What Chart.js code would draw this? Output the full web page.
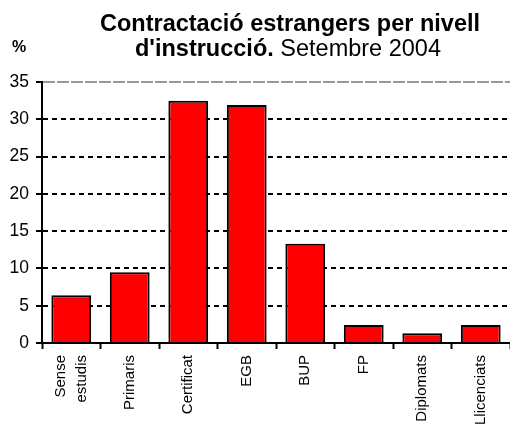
<!DOCTYPE html>
<html>
<head>
<meta charset="utf-8">
<script src="https://cdn.jsdelivr.net/npm/chart.js@4/dist/chart.umd.min.js"></script>
<style>
  body { margin: 0; background: #fff; }
  #wrap { width: 510px; height: 428px; position: relative; }
</style>
</head>
<body>
<div id="wrap"><canvas id="myChart"></canvas></div>
<script>
// Chart data
const categories = [['Sense', 'estudis'], 'Primaris', 'Certificat', 'EGB', 'BUP', 'FP', 'Diplomats', 'Llicenciats'];
const percentages = [6.4, 9.5, 32.5, 31.9, 13.3, 2.4, 1.3, 2.4];
const yMax = 35;
const yStep = 5;
const titleBold1 = 'Contractació estrangers per nivell';
const titleBold2 = "d'instrucció.";
const titleNormal2 = ' Setembre 2004';
const yUnit = '%';

const FONT = 'Liberation Sans, Arial, sans-serif';
const X_FONT_SIZE = 15;
const X_LINE_HEIGHT = 1.45;

// Title with mixed bold / normal text, plus the "%" label
const titlePlugin = {
    id: 'mixedTitle',
    beforeDraw(chart) {
        // center two-line rotated labels on their category
        const xs = chart.scales.x;
        xs.getLabelItems(chart.chartArea).forEach(function (it) {
            if (Array.isArray(it.label) && !it._shifted) {
                it.options.translation[0] -= (it.label.length - 1) * X_FONT_SIZE * X_LINE_HEIGHT / 2;
                it._shifted = true;
            }
        });
    },
    afterDraw(chart) {
        const c = chart.ctx;
        c.save();
        c.fillStyle = '#000';
        c.textBaseline = 'alphabetic';
        c.textAlign = 'left';

        c.font = 'bold 23.5px ' + FONT;
        let w1 = c.measureText(titleBold1).width;
        c.fillText(titleBold1, 290 - w1 / 2, 31);

        let wb = c.measureText(titleBold2).width;
        c.font = '23.5px ' + FONT;
        let wn = c.measureText(titleNormal2).width;
        let x0 = 288 - (wb + wn) / 2;
        c.font = 'bold 23.5px ' + FONT;
        c.fillText(titleBold2, x0, 56);
        c.font = '23.5px ' + FONT;
        c.fillText(titleNormal2, x0 + wb, 56);

        c.font = 'bold 16px ' + FONT;
        c.fillText(yUnit, 12, 52);
        c.restore();
    }
};

const ctx = document.getElementById('myChart').getContext('2d');
const myChart = new Chart(ctx, {
    type: 'bar',
    data: {
        labels: categories,
        datasets: [{
            data: percentages,
            backgroundColor: '#ff0000',
            borderColor: '#000',
            borderWidth: 2,
            barPercentage: 0.68,
            categoryPercentage: 1
        }]
    },
    options: {
        responsive: true,
        maintainAspectRatio: false,
        animation: false,
        layout: { padding: { top: 82, left: 0, right: 0, bottom: 0 } },
        plugins: {
            legend: { display: false },
            tooltip: { enabled: false },
            title: { display: false }
        },
        scales: {
            x: {
                afterFit(scale) { scale.height = 85; },
                grid: {
                    drawOnChartArea: false,
                    drawTicks: true,
                    tickLength: 6,
                    tickColor: '#000',
                    tickWidth: 2,
                    offset: true
                },
                border: { color: '#000', width: 2 },
                ticks: {
                    maxRotation: 90,
                    minRotation: 90,
                    autoSkip: false,
                    padding: 6,
                    color: '#000',
                    font: { family: FONT, size: X_FONT_SIZE, lineHeight: X_LINE_HEIGHT }
                }
            },
            y: {
                min: 0,
                max: yMax,
                afterFit(scale) { scale.width = 42; },
                grid: {
                    color(c) {
                        if (c.tick && c.tick.value === yMax) return '#999';
                        return '#000';
                    },
                    lineWidth: 2,
                    tickLength: 6,
                    tickColor: '#000',
                    tickWidth: 2,
                    tickBorderDash: []
                },
                border: {
                    color: '#000',
                    width: 2,
                    dash(c) {
                        if (c.tick && c.tick.value === yMax) return [12, 2];
                        return [5, 4];
                    }
                },
                ticks: {
                    stepSize: yStep,
                    padding: 7,
                    color: '#000',
                    font: { family: FONT, size: 17.5 }
                }
            }
        }
    },
    plugins: [titlePlugin]
});
</script>
</body>
</html>
